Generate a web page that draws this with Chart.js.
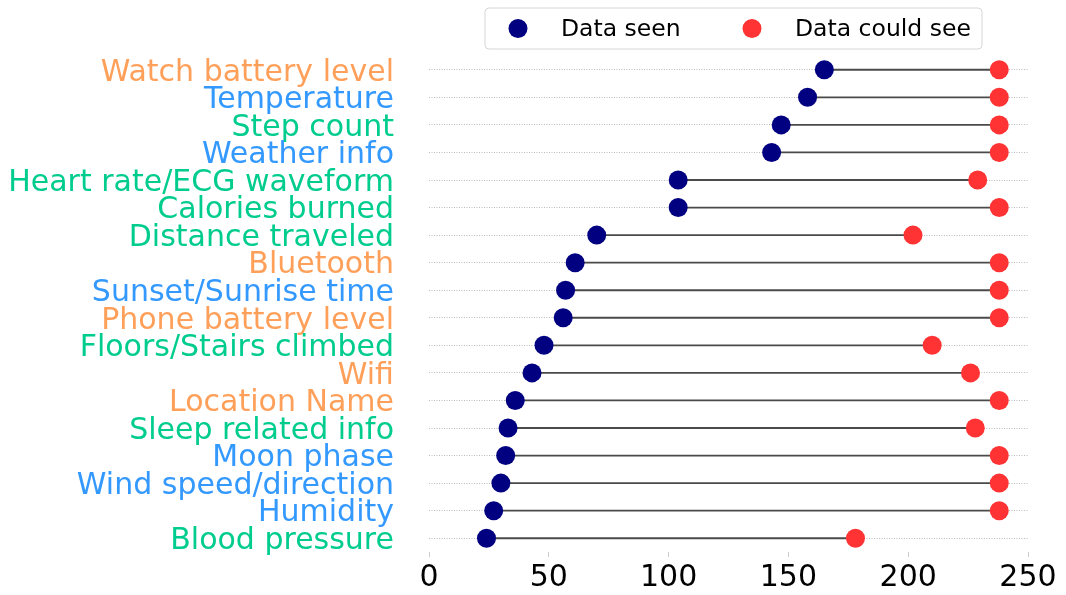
<!DOCTYPE html>
<html>
<head>
<meta charset="utf-8">
<script src="https://cdn.jsdelivr.net/npm/chart.js@4"></script>
<style>
  html, body { margin: 0; padding: 0; background: #fff; }
  canvas { display: block; }
</style>
</head>
<body>
<canvas id="c" width="1066" height="595"></canvas>
<script>
const categories = ['Watch battery level','Temperature','Step count','Weather info','Heart rate/ECG waveform','Calories burned','Distance traveled','Bluetooth','Sunset/Sunrise time','Phone battery level','Floors/Stairs climbed','Wifi','Location Name','Sleep related info','Moon phase','Wind speed/direction','Humidity','Blood pressure'];
const dataSeen = [165,158,147,143,104,104,70,61,57,56,48,43,36,33,32,30,27,24];
const dataCouldSee = [238,238,238,238,229,238,202,238,238,238,210,226,238,228,238,238,238,178];
const categoryGroup = ['orange','blue','green','blue','green','green','green','orange','blue','orange','green','orange','orange','green','blue','blue','blue','green'];
const xTicks = [0,50,100,150,200,250];
const seriesNames = ['Data seen','Data could see'];

const groupColors = { orange: '#FFA05A', blue: '#3399FF', green: '#00CC8E' };
const seenColor = '#000080';
const couldColor = '#FF3333';
const FONT = 'DejaVu Sans';

const ranges = dataSeen.map((v, i) => [v, dataCouldSee[i]]);

const legendPlugin = {
  id: 'boxLegend',
  afterDraw(chart) {
    const ctx = chart.ctx;
    const ca = chart.chartArea;
    const boxW = 497, boxH = 41;
    const cx = (ca.left + ca.right) / 2 + 5;
    const left = cx - boxW / 2, top = 8;
    const r = 4;
    ctx.save();
    ctx.beginPath();
    ctx.moveTo(left + r, top);
    ctx.arcTo(left + boxW, top, left + boxW, top + boxH, r);
    ctx.arcTo(left + boxW, top + boxH, left, top + boxH, r);
    ctx.arcTo(left, top + boxH, left, top, r);
    ctx.arcTo(left, top, left + boxW, top, r);
    ctx.closePath();
    ctx.fillStyle = 'rgba(255,255,255,0.8)';
    ctx.fill();
    ctx.strokeStyle = '#d6d6d6';
    ctx.lineWidth = 1;
    ctx.stroke();
    const cy = top + boxH / 2;
    const items = [
      { color: seenColor, dx: 33, tx: 76, text: seriesNames[0] },
      { color: couldColor, dx: 267, tx: 310, text: seriesNames[1] }
    ];
    ctx.font = '23.5px "' + FONT + '"';
    ctx.textBaseline = 'middle';
    ctx.textAlign = 'left';
    items.forEach(it => {
      ctx.beginPath();
      ctx.arc(left + it.dx, cy, 9.5, 0, Math.PI * 2);
      ctx.fillStyle = it.color;
      ctx.fill();
      ctx.fillStyle = '#000';
      ctx.fillText(it.text, left + it.tx, cy + 1);
    });
    ctx.restore();
  }
};

new Chart(document.getElementById('c'), {
  type: 'bar',
  data: {
    labels: categories,
    datasets: [
      {
        type: 'line',
        label: seriesNames[0],
        data: dataSeen,
        indexAxis: 'y',
        showLine: false,
        pointRadius: 9.5,
        pointHoverRadius: 9.5,
        pointBackgroundColor: seenColor,
        pointBorderWidth: 0,
        backgroundColor: seenColor,
        borderColor: seenColor,
        order: 1
      },
      {
        type: 'line',
        label: seriesNames[1],
        data: dataCouldSee,
        indexAxis: 'y',
        showLine: false,
        pointRadius: 9.5,
        pointHoverRadius: 9.5,
        pointBackgroundColor: couldColor,
        pointBorderWidth: 0,
        backgroundColor: couldColor,
        borderColor: couldColor,
        order: 2
      },
      {
        type: 'bar',
        label: 'range',
        data: ranges,
        indexAxis: 'y',
        backgroundColor: '#4a4a4a',
        borderWidth: 0,
        barThickness: 1.2,
        grouped: false,
        order: 3
      }
    ]
  },
  options: {
    responsive: false,
    animation: false,
    indexAxis: 'y',
    layout: { padding: { top: 56, right: 38, bottom: 0, left: 0 } },
    plugins: {
      legend: { display: false },
      tooltip: { enabled: false }
    },
    scales: {
      x: {
        type: 'linear',
        min: 0,
        max: 250,
        afterBuildTicks(scale) { scale.ticks = xTicks.map(v => ({ value: v })); },
        afterFit(scale) { scale.height = 43; },
        border: { display: false },
        grid: { drawOnChartArea: false, drawTicks: true, tickLength: 5, color: '#cccccc' },
        ticks: {
          padding: 3.5,
          color: '#000',
          font: { family: FONT, size: 30 }
        }
      },
      y: {
        type: 'category',
        offset: true,
        afterFit(scale) { scale.width = 429; },
        afterUpdate(scale) {
          if (!scale._shiftPatched) {
            const orig = scale._computeLabelItems;
            scale._computeLabelItems = function (ca) {
              const items = orig.call(this, ca);
              items.forEach(it => { it.options.translation[1] += 3; });
              return items;
            };
            scale._shiftPatched = true;
            scale._labelItems = null;
          }
        },
        border: { display: false, dash: [1, 1.5] },
        grid: {
          offset: false,
          drawTicks: true,
          tickLength: 33,
          tickColor: 'rgba(0,0,0,0)',
          color: '#a8a8a8',
          lineWidth: 0.8
        },
        ticks: {
          autoSkip: false,
          padding: 2,
          color: (ctx) => groupColors[categoryGroup[ctx.index]],
          font: { family: FONT, size: 30 }
        }
      }
    }
  },
  plugins: [legendPlugin]
});
</script>
</body>
</html>
